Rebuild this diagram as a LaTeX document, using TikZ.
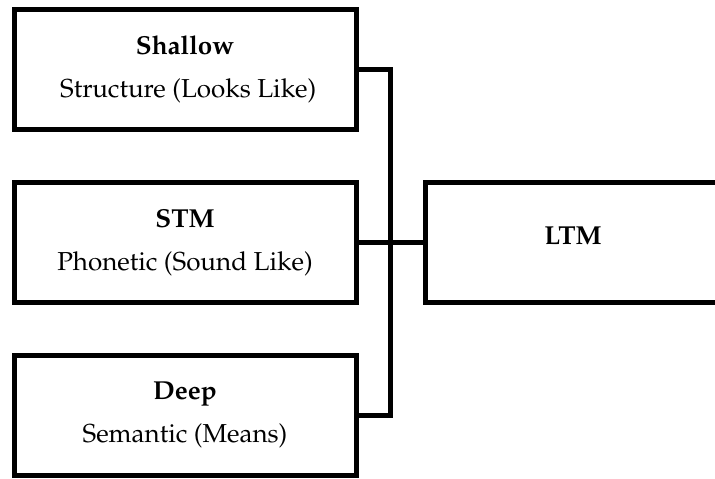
\documentclass[tikz,border=0pt]{standalone}
\usepackage[T1]{fontenc}
\usepackage{mathpazo}
\begin{document}
\begin{tikzpicture}[x=1pt,y=-1pt,
  box/.style={draw=black,line width=5pt,minimum width=342pt,minimum height=120pt,inner sep=0pt,align=center,
    font=\fontsize{26}{43}\selectfont},
  conn/.style={draw=black,line width=5pt}]
\useasboundingbox (0,0) rectangle (715,479);
\clip (0,0) rectangle (715,479);
\node[box] (sh) at (185,69) {\textbf{Shallow}\\ \ Structure (Looks Like)};
\node[box] (stm) at (185,242.5) {\textbf{STM}\\ Phonetic (Sound Like)};
\node[box] (dp) at (185,415.5) {\textbf{Deep}\\ Semantic (Means)};
\node[box,minimum width=296pt] (ltm) at (573,242.5) {\raisebox{14pt}{\textbf{LTM}}};
\coordinate (vx) at (390,240);
\draw[conn] (sh.east) -| (vx) |- (dp.east);
\draw[conn] (stm.east) -- (ltm.west);
\end{tikzpicture}
\end{document}
